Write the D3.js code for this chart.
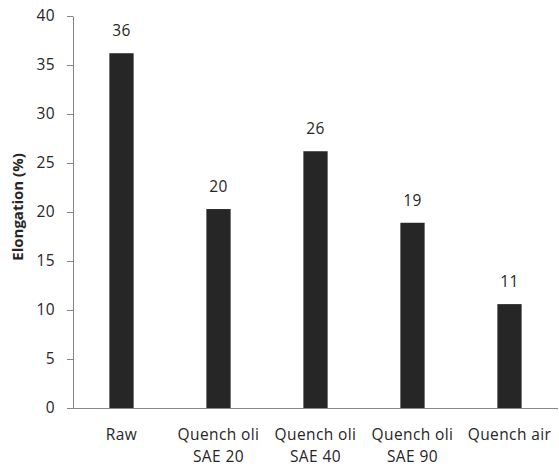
<!DOCTYPE html>
<html>
<head>
<meta charset="utf-8">
<script src="https://cdn.jsdelivr.net/npm/d3@7"></script>
<style>
  html, body { margin: 0; padding: 0; background: #fff; }
  svg text { font-family: "Open Sans", sans-serif; fill: #262626; }
</style>
</head>
<body>
<svg id="chart" width="559" height="468"></svg>
<script>
const categories = [["Raw"], ["Quench oli", "SAE 20"], ["Quench oli", "SAE 40"], ["Quench oli", "SAE 90"], ["Quench air"]];
const values = [36.2, 20.3, 26.2, 18.9, 10.6];
const valueLabels = ["36", "20", "26", "19", "11"];
const yTicks = [0, 5, 10, 15, 20, 25, 30, 35, 40];
const yTitle = "Elongation (%)";

const svg = d3.select("#chart");
const mLeft = 73, mRight = 558, mTop = 16, mBottom = 408;
const fs = "15.5px", ls = "0.4px";

const x = d3.scaleBand().domain(d3.range(categories.length)).range([mLeft, mRight]).padding(0);
const y = d3.scaleLinear().domain([0, 40]).range([mBottom, mTop]);
const barW = x.bandwidth() * 0.25;

// bars
svg.selectAll("rect.bar").data(values).enter().append("rect")
  .attr("class", "bar")
  .attr("x", (d, i) => x(i) + x.bandwidth() / 2 - barW / 2)
  .attr("y", d => y(d))
  .attr("width", barW)
  .attr("height", d => y(0) - y(d))
  .attr("fill", "#262626");

// y axis
const yAxis = d3.axisLeft(y).tickValues(yTicks).tickSize(6).tickPadding(12).tickSizeOuter(0);
const gy = svg.append("g").attr("transform", `translate(${mLeft},0)`).call(yAxis);
gy.select(".domain").attr("stroke", "#868686");
gy.selectAll(".tick line").attr("stroke", "#868686");
gy.selectAll(".tick text").style("font-size", fs).style("letter-spacing", ls)
  .attr("fill", "#262626").style("font-family", "'Open Sans', sans-serif");

// x axis
const xAxis = d3.axisBottom(x).tickSize(0).tickFormat("");
const gx = svg.append("g").attr("transform", `translate(0,${mBottom})`).call(xAxis);
gx.select(".domain").attr("stroke", "#868686").attr("d", `M${mLeft - 6},0.5H${mRight}`);

// category labels
const cat = svg.selectAll("text.cat").data(categories).enter().append("text")
  .attr("class", "cat")
  .attr("text-anchor", "middle")
  .style("font-size", fs).style("letter-spacing", ls);
cat.each(function(lines, i) {
  const t = d3.select(this);
  lines.forEach((l, j) => {
    t.append("tspan").attr("x", x(i) + x.bandwidth() / 2).attr("y", 440 + j * 22).text(l);
  });
});

// value labels
svg.selectAll("text.val").data(values).enter().append("text")
  .attr("class", "val")
  .attr("text-anchor", "middle")
  .attr("x", (d, i) => x(i) + x.bandwidth() / 2)
  .attr("y", d => y(d) - 17)
  .style("font-size", fs).style("letter-spacing", ls)
  .text((d, i) => valueLabels[i]);

// y title
svg.append("text")
  .attr("transform", `translate(23,207) rotate(-90)`)
  .attr("text-anchor", "middle")
  .style("font-size", "15px")
  .style("font-weight", "bold")
  .text(yTitle);
</script>
</body>
</html>
